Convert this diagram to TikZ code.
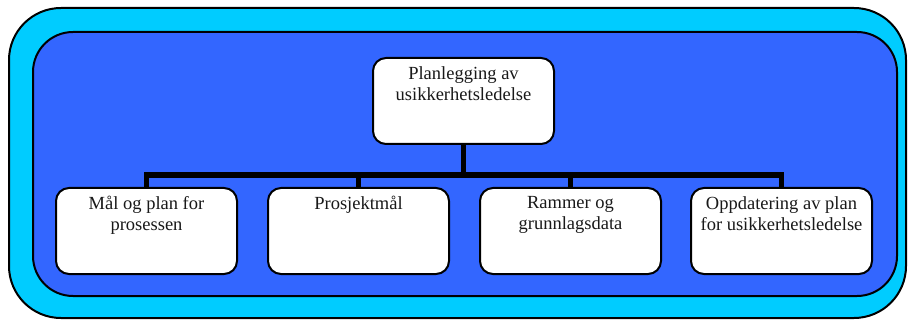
\documentclass[tikz,border=0pt]{standalone}
\usepackage{fontspec}
\setmainfont{Liberation Serif}
\definecolor{framecyan}{RGB}{0,204,255}
\definecolor{panelblue}{RGB}{51,102,255}
\begin{document}
\begin{tikzpicture}[x=1pt,y=-1pt,
  box/.style={draw=black, line width=2pt, fill=white, rounded corners=13pt,
    minimum width=181pt, minimum height=86pt, inner sep=0pt},
  lbl/.style={anchor=north, inner sep=0pt, align=center, text=black!90,
    font=\fontsize{18.5}{21}\selectfont},
  bus/.style={draw=black, line width=5.5pt, line join=miter}]
  \useasboundingbox (0,0) rectangle (909,320);
  % outer frame and inner panel
  \draw[line width=2pt, fill=framecyan, rounded corners=52pt] (9,8) rectangle (906,318);
  \draw[line width=2pt, fill=panelblue, rounded corners=40pt] (33,32) rectangle (897,296);
  % top box
  \node[box] (top) at (463.5,101) {};
  \node[lbl] at ([yshift=-9pt]top.north) {Planlegging av\\usikkerhetsledelse};
  % child boxes
  \node[box] (b1) at (146.5,231) {};
  \node[box] (b2) at (358.5,231) {};
  \node[box] (b3) at (570.5,231) {};
  \node[box] (b4) at (781.5,231) {};
  \node[lbl] at ([yshift=-9pt]b1.north) {Mål og plan for\\prosessen};
  \node[lbl] at ([yshift=-9pt]b2.north) {Prosjektmål};
  \node[lbl] at ([yshift=-9pt]b3.north) {Rammer og\\grunnlagsdata};
  \node[lbl] at ([yshift=-9pt]b4.north) {Oppdatering av plan\\for usikkerhetsledelse};
  % connectors
  \coordinate (j) at (463.5,175);
  \draw[bus] (top.south) -- (j);
  \draw[bus] (b1.north) -- (b1.north |- j) -- (b4.north |- j) -- (b4.north);
  \draw[bus] (b2.north) -- (b2.north |- j);
  \draw[bus] (b3.north) -- (b3.north |- j);
\end{tikzpicture}
\end{document}
